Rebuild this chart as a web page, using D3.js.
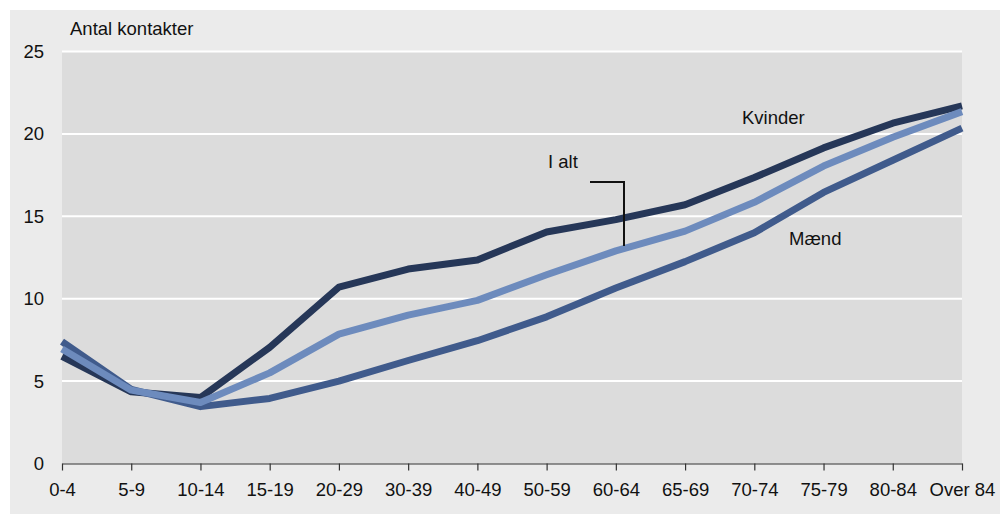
<!DOCTYPE html>
<html>
<head>
<meta charset="utf-8">
<script src="https://cdn.jsdelivr.net/npm/d3@7"></script>
<style>
  html, body { margin: 0; padding: 0; background: #ffffff; }
  svg { display: block; font-family: "Liberation Sans", Arial, sans-serif; }
</style>
</head>
<body>
<svg id="chart" width="1007" height="514"></svg>
<script>
const categories = ["0-4","5-9","10-14","15-19","20-29","30-39","40-49","50-59","60-64","65-69","70-74","75-79","80-84","Over 84"];
const kvinder = [6.5, 4.35, 4.0, 7.05, 10.7, 11.8, 12.35, 14.05, 14.8, 15.7, 17.35, 19.15, 20.65, 21.7];
const maend   = [7.4, 4.5, 3.45, 3.95, 5.0, 6.25, 7.45, 8.9, 10.65, 12.25, 14.0, 16.45, 18.4, 20.35];
const ialt    = [6.95, 4.45, 3.7, 5.5, 7.85, 9.0, 9.9, 11.45, 12.9, 14.1, 15.85, 18.05, 19.8, 21.35];
const yTicks = [0, 5, 10, 15, 20, 25];

const svg = d3.select("#chart");
const pLeft = 62, pRight = 962, pTop = 51.5, pBottom = 463.5;
const fs = 18.5;

svg.append("rect").attr("x", 10).attr("y", 10).attr("width", 990).attr("height", 504).attr("fill", "#ebebeb");
svg.append("rect").attr("x", pLeft).attr("y", pTop).attr("width", pRight - pLeft).attr("height", pBottom - pTop).attr("fill", "#dcdcdc");

const x = d3.scalePoint().domain(categories).range([pLeft, pRight]);
const y = d3.scaleLinear().domain([0, 25]).range([pBottom, pTop]);

// gridlines
svg.append("g").selectAll("line").data(yTicks.filter(d => d > 0)).join("line")
  .attr("x1", pLeft).attr("x2", pRight)
  .attr("y1", d => y(d)).attr("y2", d => y(d))
  .attr("stroke", "#ffffff").attr("stroke-width", 2);

// y labels
svg.append("g").selectAll("text").data(yTicks).join("text")
  .attr("x", 44).attr("y", d => y(d)).attr("dy", "0.35em")
  .attr("text-anchor", "end").attr("font-size", fs).attr("fill", "#111")
  .text(d => d);

// x axis
const xAxis = d3.axisBottom(x).tickSize(7).tickPadding(12).tickSizeOuter(0);
const gx = svg.append("g").attr("transform", `translate(0,${pBottom})`).call(xAxis);
gx.select(".domain").attr("stroke", "#333").attr("stroke-width", 1.2);
gx.selectAll(".tick line").attr("stroke", "#333").attr("stroke-width", 1.2);
gx.selectAll(".tick text").attr("font-size", fs).attr("fill", "#111").attr("font-family", "Liberation Sans, Arial, sans-serif");

const line = d3.line().x((d, i) => x(categories[i])).y(d => y(d));

const series = [
  { name: "Kvinder", values: kvinder, color: "#263758" },
  { name: "Mænd", values: maend, color: "#405b8c" },
  { name: "I alt", values: ialt, color: "#6d8bbd" }
];
svg.append("g").selectAll("path").data(series).join("path")
  .attr("d", d => line(d.values))
  .attr("fill", "none")
  .attr("stroke", d => d.color)
  .attr("stroke-width", 7)
  .attr("stroke-linejoin", "round")
  .attr("stroke-linecap", "butt");

// title
svg.append("text").attr("x", 70).attr("y", 35).attr("font-size", fs).attr("fill", "#111").text("Antal kontakter");

// labels
svg.append("text").attr("x", 742).attr("y", 124).attr("font-size", fs).attr("fill", "#111").text("Kvinder");
svg.append("text").attr("x", 789).attr("y", 245).attr("font-size", fs).attr("fill", "#111").text("Mænd");
svg.append("text").attr("x", 548).attr("y", 168).attr("font-size", fs).attr("fill", "#111").text("I alt");
svg.append("path").attr("d", "M590,182 H624 V246").attr("fill", "none").attr("stroke", "#111").attr("stroke-width", 2);
</script>
</body>
</html>
